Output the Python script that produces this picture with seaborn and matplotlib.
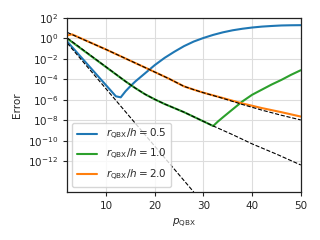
import numpy as np
import pandas as pd
import seaborn as sns
import matplotlib
matplotlib.use("Agg")
import matplotlib.pyplot as plt

# log10(error), per QBX radius ratio
p_05 = [2, 12, 13, 14, 15, 16, 18, 20, 22, 24, 26, 28, 30, 32, 34, 36, 38, 40, 42, 44, 46, 48, 50]
err_05 = [-0.3, -5.65, -5.75, -5.15, -4.65, -4.2, -3.4, -2.6, -1.9, -1.3, -0.75, -0.3, 0.05, 0.35,
          0.6, 0.8, 0.95, 1.07, 1.16, 1.22, 1.27, 1.29, 1.3]
p_10 = [2, 14, 16, 18, 20, 22, 24, 26, 28, 30, 32, 33, 34, 36, 38, 40, 42, 44, 46, 48, 50]
err_10 = [0.0, -4.2, -4.85, -5.45, -5.95, -6.4, -6.8, -7.2, -7.65, -8.1, -8.55, -8.1, -7.7, -6.92,
          -6.15, -5.5, -5.0, -4.5, -4.05, -3.55, -3.1]
p_20 = [2, 3, 10, 19, 23, 26, 28, 30, 34, 38, 42, 46, 50]
err_20 = [0.3, 0.4, -1.08, -3.06, -3.95, -4.68, -5.0, -5.3, -5.82, -6.35, -6.8, -7.2, -7.63]

# asymptotic estimates (dashed)
pe_05 = [2, 12, 20, 28]
est_05 = [-0.45, -6.05, -10.53, -15.0]
pe_10 = [2, 14, 16, 18, 20, 22, 24, 26, 28, 30, 32, 36, 40, 45, 50]
est_10 = [0.05, -4.2, -4.85, -5.45, -5.95, -6.4, -6.8, -7.2, -7.65, -8.1, -8.55, -9.4, -10.3, -11.3, -12.36]
pe_20 = [2, 3, 10, 19, 23, 26, 28, 30, 34, 38, 42, 46, 50]
est_20 = [0.6, 0.38, -1.08, -3.06, -3.95, -4.68, -5.0, -5.3, -5.85, -6.45, -7.0, -7.5, -7.96]

labels = ["0.5", "1.0", "2.0"]
colors = {"0.5": "#1f77b4", "1.0": "#2ca02c", "2.0": "#ff7f0e"}

err = pd.concat([
    pd.DataFrame({"p": p, "err": 10.0 ** np.array(e), "ratio": r})
    for p, e, r in [(p_05, err_05, "0.5"), (p_10, err_10, "1.0"), (p_20, err_20, "2.0")]
])
est = pd.concat([
    pd.DataFrame({"p": p, "err": 10.0 ** np.array(e), "ratio": r})
    for p, e, r in [(pe_05, est_05, "0.5"), (pe_10, est_10, "1.0"), (pe_20, est_20, "2.0")]
])

sns.set_theme(style="whitegrid", rc={
    "axes.edgecolor": "#222222", "axes.linewidth": 0.9,
    "xtick.bottom": True, "ytick.left": True,
    "xtick.major.size": 3, "ytick.major.size": 3,
    "xtick.major.width": 0.8, "ytick.major.width": 0.8,
    "grid.color": "#dddddd", "grid.linewidth": 0.8,
    "font.size": 7.5, "axes.labelsize": 7.5,
    "xtick.labelsize": 7.5, "ytick.labelsize": 7.5, "legend.fontsize": 7.5,
})

fig, ax = plt.subplots(figsize=(3.2, 2.4), dpi=100)
fig.subplots_adjust(left=0.21, right=0.94, top=0.925, bottom=0.2)

sns.lineplot(data=err, x="p", y="err", hue="ratio", hue_order=labels, palette=colors,
             linewidth=1.5, ax=ax, legend=False, sort=False)
for r in labels:
    sub = est[est["ratio"] == r]
    sns.lineplot(x=sub["p"], y=sub["err"], color="black", linestyle="--", linewidth=0.8,
                 ax=ax, legend=False, sort=False)

ax.set_yscale("log")
ax.set_xlim(2, 50)
ax.set_ylim(1e-15, 1e2)
ax.set_yticks([10.0 ** k for k in range(2, -13, -2)])
ax.minorticks_off()
ax.set_xticks([10, 20, 30, 40, 50])
ax.set_xlabel(r"$p_{\mathrm{QBX}}$")
ax.set_ylabel("Error")

handles = ax.get_lines()[:3]
ax.legend(handles, [r"$r_{\mathrm{QBX}}/h = %s$" % r for r in labels], loc="lower left")

fig.savefig("out.png", dpi=100)
